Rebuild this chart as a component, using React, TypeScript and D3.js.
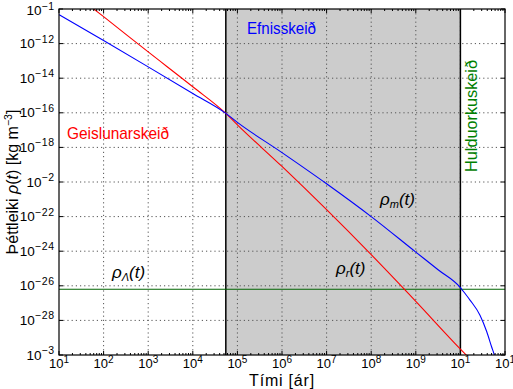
import React from "react";
import * as d3 from "d3";

// time in years, density in kg m^-3
const radTime = [1e1, 1e2, 1e3, 1e4, 5.5e4, 1e5, 1e6, 1e7, 1e8, 1e9, 1e10, 1.41e10];
const radRho = [3.6e-9, 3.6e-11, 3.3e-13, 3.2e-15, 9.3e-17, 2e-17, 7.9e-20, 2.5e-22, 6.3e-25, 1.26e-27, 2.2e-30, 8.9e-31];

const matTime = [1e1, 1e2, 1e3, 1e4, 5.5e4, 1e5, 1e6, 1e7, 1e8, 1e9, 3.16e9, 1e10, 1.26e10, 1.64e10, 2.75e10, 3.9e10, 5.0e10, 5.75e10, 6.3e10];
const matRho = [4.7e-11, 1.5e-12, 4.5e-14, 1.3e-15, 9.3e-17, 2.8e-17, 5e-19, 7.9e-21, 1e-22, 8.9e-25, 8.5e-26, 7.9e-27, 3.7e-27, 1.5e-27, 2e-28, 2.2e-29, 3e-30, 1e-30, 3.2e-31];

const rhoLambda = 6.3e-27;
const matterEra = [5.5e4, 1e10];

const xTicks = [1e1, 1e2, 1e3, 1e4, 1e5, 1e6, 1e7, 1e8, 1e9, 1e10, 1e11];
const xTickExp = ["1", "2", "3", "4", "5", "6", "7", "8", "9", "1", "1"];
const yTicks = [1e-10, 1e-12, 1e-14, 1e-16, 1e-18, 1e-20, 1e-22, 1e-24, 1e-26, 1e-28, 1e-30];
const yTickExp = ["\u22121", "\u221212", "\u221214", "\u221216", "\u221218", "\u22122", "\u221222", "\u221224", "\u221226", "\u221228", "\u22123"];

const W = 513, H = 389;
const left = 59, right = 505, top = 9, bottom = 355;

export default function App() {
  const x = d3.scaleLog().domain([1e1, 1e11]).range([left, right]);
  const y = d3.scaleLog().domain([1e-30, 1e-10]).range([bottom, top]);

  const line = d3.line<[number, number]>()
    .x(d => x(d[0]))
    .y(d => y(d[1]))
    .curve(d3.curveMonotoneX);

  const radPath = line(radTime.map((t, i) => [t, radRho[i]]));
  const matPath = line(matTime.map((t, i) => [t, matRho[i]]));

  const minor: number[] = [];
  for (let e = 1; e < 11; e++) for (let k = 2; k < 10; k++) minor.push(k * Math.pow(10, e));

  const grid = { stroke: "#555", strokeWidth: 1, strokeDasharray: "1.2,3" };

  return (
    <svg width={W} height={H} style={{ position: "absolute", left: 0, top: 0, background: "#fff" }} fontFamily="Liberation Sans, Arial, sans-serif">
      <defs>
        <clipPath id="plot">
          <rect x={left} y={top} width={right - left} height={bottom - top} />
        </clipPath>
      </defs>

      <rect x={x(matterEra[0])} y={top} width={x(matterEra[1]) - x(matterEra[0])} height={bottom - top} fill="#cccccc" />

      {xTicks.slice(1, -1).map((t, i) => (
        <line key={"gx" + i} x1={x(t)} x2={x(t)} y1={top} y2={bottom} {...grid} />
      ))}
      {yTicks.slice(1, -1).map((v, i) => (
        <line key={"gy" + i} x1={left} x2={right} y1={y(v)} y2={y(v)} {...grid} />
      ))}

      <line x1={x(matterEra[0])} x2={x(matterEra[0])} y1={top} y2={bottom} stroke="#000" strokeWidth={1.5} />
      <line x1={x(matterEra[1])} x2={x(matterEra[1])} y1={top} y2={bottom} stroke="#000" strokeWidth={1.5} />

      <g clipPath="url(#plot)" fill="none">
        <line x1={left} x2={right} y1={y(rhoLambda)} y2={y(rhoLambda)} stroke="#006400" strokeWidth={1.1} />
        <path d={radPath || ""} stroke="#ff0000" strokeWidth={1.1} />
        <path d={matPath || ""} stroke="#0000ff" strokeWidth={1.1} />
      </g>

      {/* frame and ticks */}
      <rect x={left} y={top} width={right - left} height={bottom - top} fill="none" stroke="#000" strokeWidth={1.2} />
      {xTicks.map((t, i) => (
        <g key={"xt" + i}>
          <line x1={x(t)} x2={x(t)} y1={bottom} y2={bottom - 4} stroke="#000" />
          <line x1={x(t)} x2={x(t)} y1={top} y2={top + 4} stroke="#000" />
          <text x={x(t)} y={368} fontSize={13} textAnchor="middle">
            10<tspan fontSize={10} dy={-5}>{xTickExp[i]}</tspan>
          </text>
        </g>
      ))}
      {minor.map((t, i) => (
        <g key={"mx" + i}>
          <line x1={x(t)} x2={x(t)} y1={bottom} y2={bottom - 2} stroke="#000" />
          <line x1={x(t)} x2={x(t)} y1={top} y2={top + 2} stroke="#000" />
        </g>
      ))}
      {yTicks.map((v, i) => (
        <g key={"yt" + i}>
          <line x1={left} x2={left + 4} y1={y(v)} y2={y(v)} stroke="#000" />
          <line x1={right} x2={right - 4} y1={y(v)} y2={y(v)} stroke="#000" />
          <text x={55} y={Math.max(y(v) + 4.5, 15)} fontSize={13.5} textAnchor="end">
            10<tspan fontSize={10.5} dy={-5.5} letterSpacing={0.8}>{yTickExp[i]}</tspan>
          </text>
        </g>
      ))}

      {/* annotations */}
      <text x={247} y={34} fontSize={17} fill="#0000ff" textLength={69} lengthAdjust="spacingAndGlyphs">Efnisskeið</text>
      <text x={67} y={139} fontSize={17} fill="#ff0000" textLength={102} lengthAdjust="spacingAndGlyphs">Geislunarskeið</text>
      <text transform={`translate(477,172) rotate(-90)`} fontSize={17} fill="#008000" textLength={112} lengthAdjust="spacingAndGlyphs">Hulduorkuskeið</text>

      <text x={112} y={278} fontSize={17} fontStyle="italic">ρ<tspan fontSize={11} dy={3}>Λ</tspan><tspan dy={-3}>(t)</tspan></text>
      <text x={380} y={205} fontSize={17} fontStyle="italic">ρ<tspan fontSize={11} dy={3}>m</tspan><tspan dy={-3}>(t)</tspan></text>
      <text x={336} y={274} fontSize={17} fontStyle="italic">ρ<tspan fontSize={11} dy={3}>r</tspan><tspan dy={-3}>(t)</tspan></text>

      <text x={(left + right) / 2} y={386} fontSize={16} textAnchor="middle" letterSpacing={0.8}>Tími [ár]</text>
      <text transform={`translate(18,${(top + bottom) / 2}) rotate(-90)`} fontSize={16} textAnchor="middle">
        Þéttleiki <tspan fontStyle="italic">ρ</tspan>(<tspan fontStyle="italic">t</tspan>) [kg m<tspan fontSize={10.5} dy={-6}>−3</tspan><tspan dy={6}>]</tspan>
      </text>
    </svg>
  );
}
